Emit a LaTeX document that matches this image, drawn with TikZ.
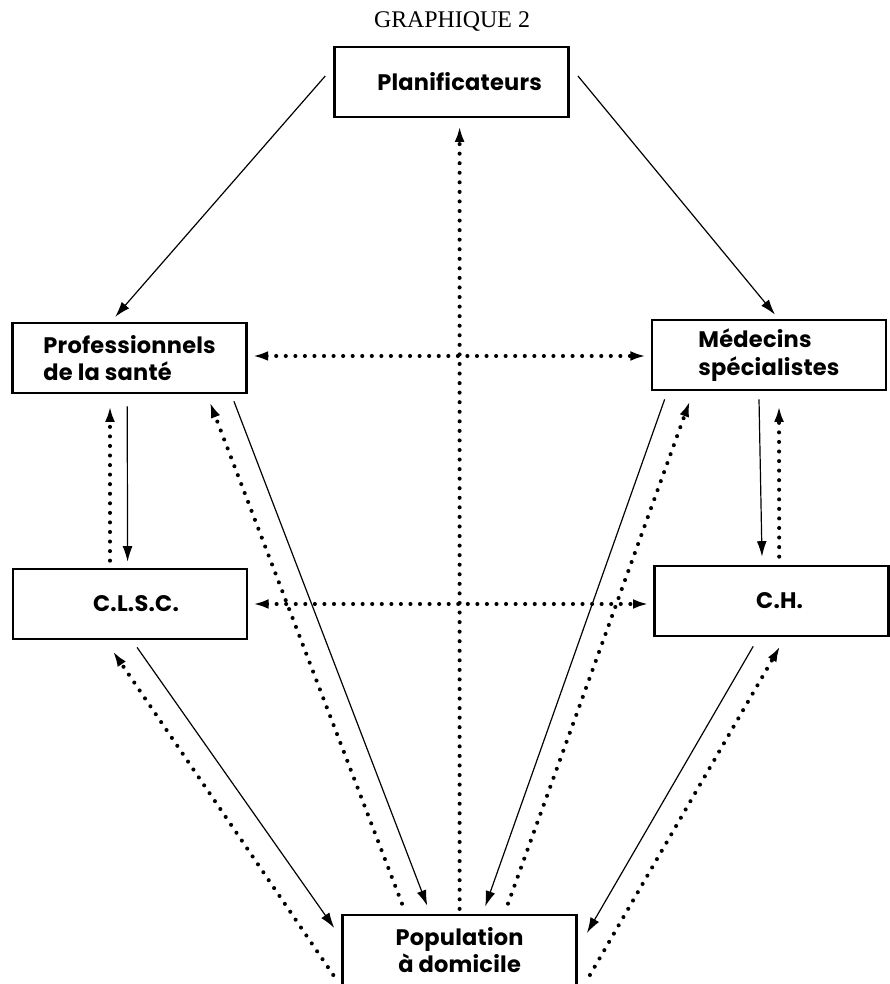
\documentclass[tikz,border=0pt]{standalone}
\usepackage{fontspec}
\setmainfont{Liberation Serif}
\newfontfamily\boitefont[LetterSpace=1]{Poppins}
\usetikzlibrary{arrows.meta}

\begin{document}
\begin{tikzpicture}[>={Latex[length=11pt,width=7pt]},
        boite/.style={draw,line width=1.9pt,minimum width=5.85cm,minimum height=1.75cm,inner sep=0pt,
            font=\boitefont\bfseries\fontsize{16}{19.5}\selectfont},
        plein/.style={->,line width=0.85pt},
        pointille/.style={->,line width=2.9pt,line cap=round,dash pattern=on 0pt off 6.8pt}]
            \useasboundingbox (0,0) rectangle (22.225,24.6);
            \node (titre) at (11.3,24.07){\fontsize{17}{20}\selectfont GRAPHIQUE 2};
            % les six cases
            \node[boite] (plan) at (11.29,22.55){\hspace{0.4cm}Planificateurs};
            \node[boite,align=left] (prof) at (3.24,15.65){Professionnels\\de la santé};
            \node[boite,align=left] (med) at (19.225,15.725){Médecins\\spécialistes};
            \node[boite] (clsc) at (3.25,9.5){\hspace{0.3cm}C.L.S.C.};
            \node[boite] (ch) at (19.29,9.575){\hspace{0.4cm}C.H.};
            \node[boite,align=center] (pop) at (11.49,0.85){Population\\à domicile};
            % flèches du haut
            \draw[plein]([xshift=-0.2cm,yshift=0.15cm]plan.west)--([xshift=-0.36cm,yshift=0.12cm]prof.north);
            \draw[plein]([xshift=0.2cm,yshift=0.15cm]plan.east)--([xshift=0.15cm,yshift=0.1cm]med.north);
            \draw[pointille]([yshift=0.12cm]pop.north)--([yshift=-0.2cm]pop.north |- plan.south);
            \draw[pointille,<->]([xshift=0.12cm,yshift=0.05cm]prof.east)--([xshift=-0.12cm,yshift=0.05cm]prof.east -| med.west);
            \draw[pointille,<->]([xshift=0.12cm]clsc.east)--([xshift=-0.12cm]clsc.east -| ch.west);
            % verticales
            \draw[pointille]([xshift=-0.5cm,yshift=0.175cm]clsc.north)--([xshift=-0.49cm,yshift=-0.3cm]prof.south);
            \draw[plein]([xshift=-0.06cm,yshift=-0.3cm]prof.south)--([xshift=-0.06cm,yshift=0.15cm]clsc.north);
            \draw[plein]([xshift=-0.25cm,yshift=-0.2cm]med.south)--([xshift=-0.24cm,yshift=0.2cm]ch.north);
            \draw[pointille]([xshift=0.19cm,yshift=0.2cm]ch.north)--([xshift=0.25cm,yshift=-0.375cm]med.south);
            % vers la population
            \draw[plein]([xshift=-0.35cm,yshift=-0.175cm]prof.south east)--([xshift=-0.81cm,yshift=0.2cm]pop.north);
            \draw[pointille]([xshift=-1.44cm,yshift=0.25cm]pop.north)--([xshift=-0.95cm,yshift=-0.2cm]prof.south east);
            \draw[plein]([xshift=0.35cm,yshift=-0.2cm]med.south west)--([xshift=0.64cm,yshift=0.18cm]pop.north);
            \draw[pointille]([xshift=1.21cm,yshift=0.25cm]pop.north)--([xshift=0.975cm,yshift=-0.25cm]med.south west);
            \draw[plein]([xshift=0.175cm,yshift=-0.175cm]clsc.south)--([xshift=-0.175cm,yshift=0.55cm]pop.west);
            \draw[pointille]([xshift=-0.2cm,yshift=-0.625cm]pop.west)--([xshift=-0.425cm,yshift=-0.275cm]clsc.south);
            \draw[plein]([xshift=-0.46cm,yshift=-0.225cm]ch.south)--([xshift=0.225cm,yshift=0.425cm]pop.east);
            \draw[pointille]([xshift=0.3cm,yshift=-0.625cm]pop.east)--([xshift=0.21cm,yshift=-0.225cm]ch.south);
        \end{tikzpicture}
\end{document}
